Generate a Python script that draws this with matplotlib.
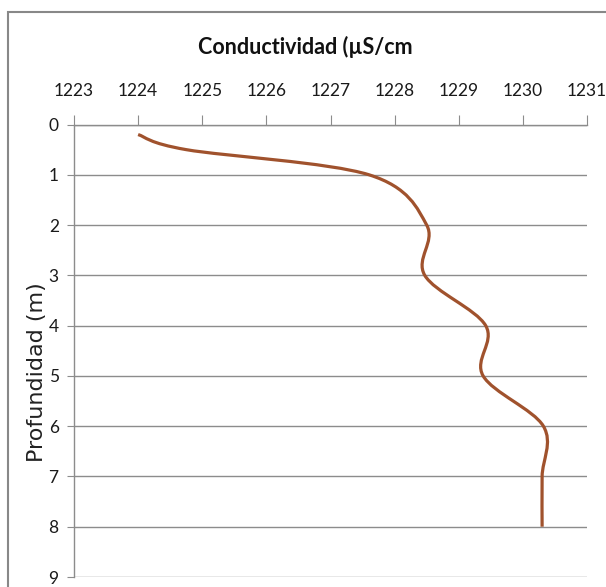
import matplotlib
matplotlib.use('Agg')
import matplotlib.pyplot as plt
from matplotlib.path import Path
from matplotlib.patches import PathPatch, Rectangle
import numpy as np

# profile data
depth = [0.2, 0.5, 1.0, 2.0, 3.0, 4.0, 5.0, 6.0, 7.0, 8.0]
conductividad = [1224.0, 1224.75, 1227.6, 1228.5, 1228.47, 1229.42, 1229.38, 1230.32, 1230.3, 1230.3]
x_ticks = [1223, 1224, 1225, 1226, 1227, 1228, 1229, 1230, 1231]
y_ticks = [0, 1, 2, 3, 4, 5, 6, 7, 8, 9]

W, H = 606, 587
fig = plt.figure(figsize=(W / 100, H / 100), dpi=100)

# axes placed in pixel coords
left, right, top, bottom = 74, 587, 124.5, 577
ax = fig.add_axes([left / W, 1 - bottom / H, (right - left) / W, (bottom - top) / H])

gray = '#8c8c8c'

# smoothed line like a spreadsheet "smooth line" (bezier through the points)
pts = np.column_stack([conductividad, depth])
n = len(pts)
verts = [tuple(pts[0])]
codes = [Path.MOVETO]
for i in range(n - 1):
    p0 = pts[max(i - 1, 0)]
    p1 = pts[i]
    p2 = pts[i + 1]
    p3 = pts[min(i + 2, n - 1)]
    c1 = p1 + (p2 - p0) / 6.0
    c2 = p2 - (p3 - p1) / 6.0
    verts += [tuple(c1), tuple(c2), tuple(p2)]
    codes += [Path.CURVE4] * 3
ax.add_patch(PathPatch(Path(verts, codes), facecolor='none', edgecolor='#a0522d',
                       lw=2.3, capstyle='butt', zorder=3))

ax.set_xlim(1223, 1231)
ax.set_ylim(9, 0)
ax.set_xticks(x_ticks)
ax.set_yticks(y_ticks)
ax.xaxis.tick_top()

for s in ['right', 'bottom']:
    ax.spines[s].set_visible(False)
for s in ['left', 'top']:
    ax.spines[s].set_color(gray)
    ax.spines[s].set_linewidth(1.0)

ax.grid(axis='y', color=gray, lw=1.0)
ax.set_axisbelow(True)
ax.tick_params(axis='x', direction='out', length=7, color=gray, pad=11,
               labelsize=12.5, labelcolor='#1a1a1a')
ax.tick_params(axis='y', direction='out', length=5, color=gray, pad=6,
               labelsize=12.5, labelcolor='#1a1a1a')
for lab in ax.get_xticklabels() + ax.get_yticklabels():
    lab.set_family('Lato')

fig.text(305 / W, 1 - 47 / H, 'Conductividad (µS/cm', ha='center', va='center',
         fontsize=15.5, fontweight='bold', family='Lato', color='#111111')
fig.text(37 / W, 1 - 372 / H, 'Profundidad (m)', ha='center', va='center',
         rotation=90, fontsize=16, family='DejaVu Sans', color='#222222')

# outer chart border
fig.add_artist(Rectangle((8 / W, -0.05), 1.05, 1 - 12 / H + 0.05, transform=fig.transFigure,
                         facecolor='none', edgecolor='#888888', lw=1.5))

fig.savefig('out.png', dpi=100)
